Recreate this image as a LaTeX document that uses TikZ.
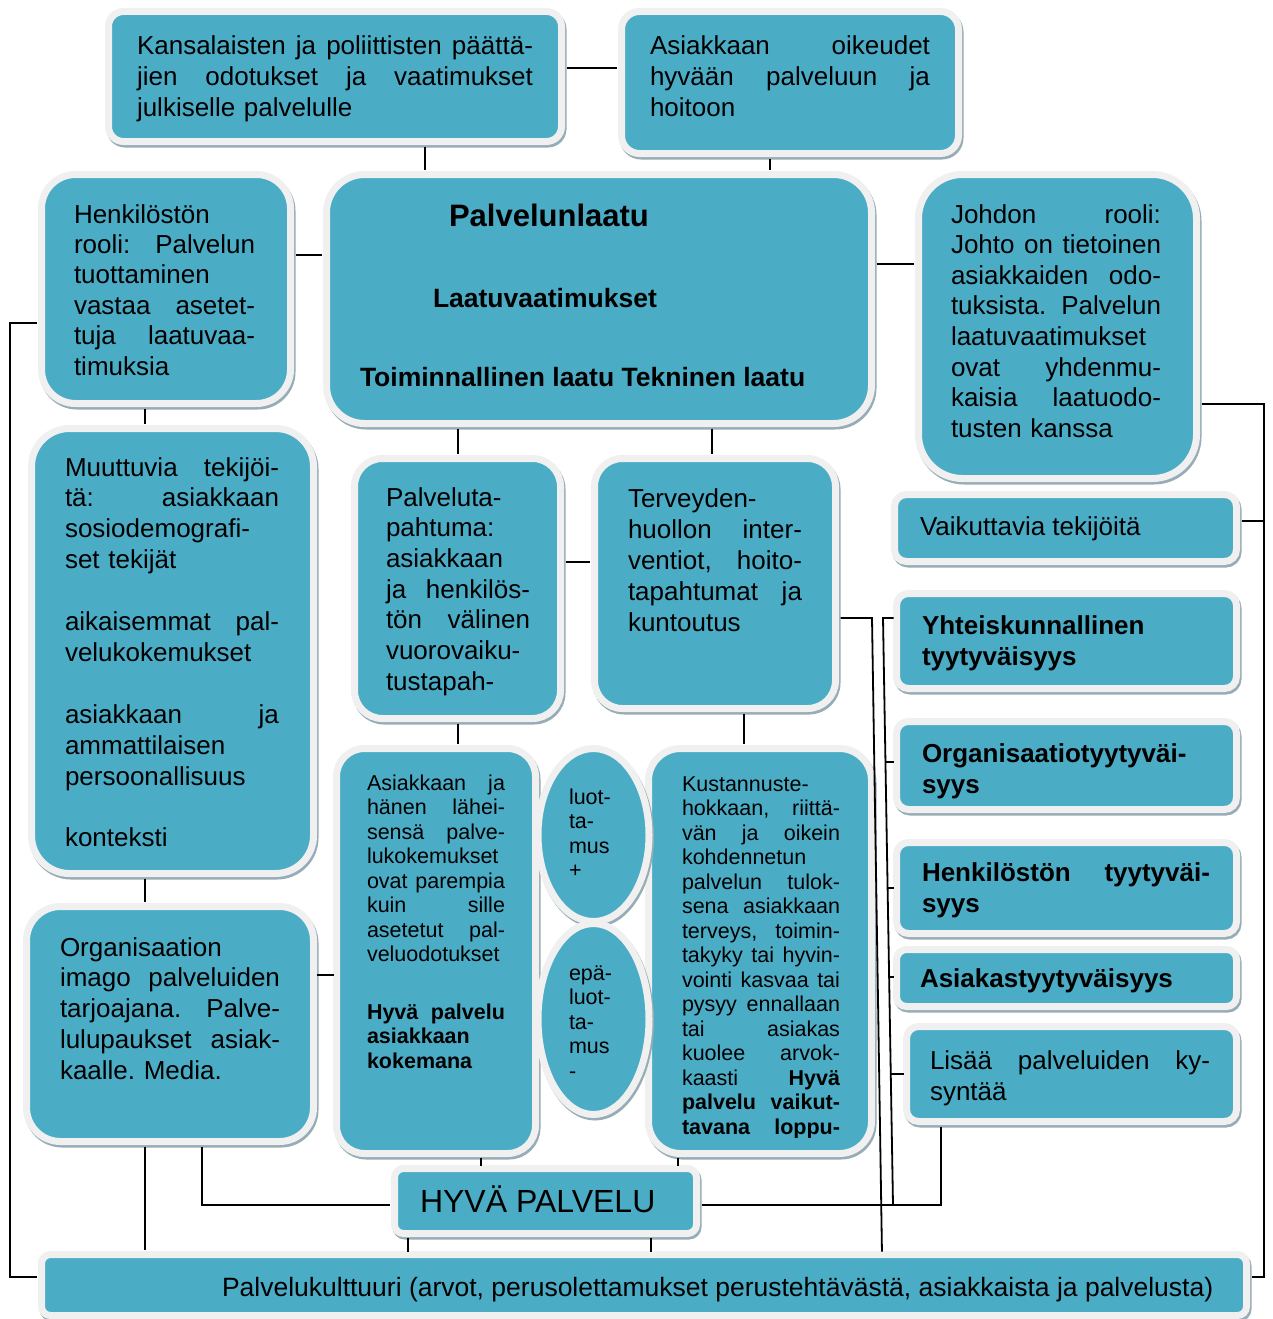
\documentclass[tikz,border=0pt]{standalone}
\usepackage{fontspec}
\setmainfont{Liberation Sans}
\usetikzlibrary{shapes.geometric}
\definecolor{tealA}{RGB}{75,172,198}
\definecolor{ringA}{RGB}{240,240,240}
\definecolor{shadA}{RGB}{150,172,182}
\newcommand\J[1]{{\spaceskip=0.278em plus 1fil\relax\xspaceskip=0.278em plus 1fil\relax\makebox[\linewidth][s]{#1}}}
\newcommand\fs[2]{\fontsize{#1}{#2}\selectfont}
\newcommand\tbox[6]{\node[tb,rounded corners=#6,minimum width={#4-#2+7},minimum height={#5-#3+7}] (#1) at ({(#2+#4)/2},{(#3+#5)/2}) {};}
\begin{document}
\frenchspacing
\begin{tikzpicture}[x=1pt,y=-1pt,
  tb/.style={draw=ringA, line width=7pt, fill=tealA, inner sep=0pt, outer sep=0pt,
    preaction={draw=shadA, fill=shadA, line width=7pt, transform canvas={shift={(1.5pt,-2.5pt)}}}},
  txt/.style={anchor=base west, inner sep=0pt, outer sep=0pt, align=left, font=\fs{26}{30.7}},
  sm/.style={font=\fs{21.5}{24.5}},
  conn/.style={draw=black, line width=1.8pt, shorten <=5pt, shorten >=5pt}]
\useasboundingbox (0,0) rectangle (1273,1319);

% boxes
\tbox{b1}{112}{15}{558}{138}{15}
\tbox{b2}{625}{15}{955}{150}{18}
\tbox{b3}{45}{178}{287}{400}{34}
\tbox{b4}{330}{178}{868}{420}{38}
\tbox{b5}{922}{178}{1193}{475}{44}
\tbox{b6}{898}{498}{1233}{558}{12}
\tbox{b7}{35}{432}{310}{870}{38}
\tbox{b8}{30}{910}{310}{1138}{34}
\tbox{b9}{358}{462}{557}{715}{28}
\tbox{b10}{598}{462}{832}{705}{28}
\tbox{b11}{340}{752}{532}{1150}{28}
\tbox{b17}{652}{752}{868}{1150}{32}
\node[tb, ellipse, minimum width=111, minimum height=173] (e1) at (593.5,835) {};
\node[tb, ellipse, minimum width=111, minimum height=191] (e2) at (593.5,1019) {};
\tbox{b12}{900}{597}{1233}{685}{12}
\tbox{b13}{900}{725}{1233}{806}{12}
\tbox{b14}{900}{846}{1233}{930}{12}
\tbox{b15}{900}{953}{1233}{1003}{10}
\tbox{b16}{910}{1030}{1233}{1118}{12}
\tbox{hyva}{398}{1172}{693}{1230}{9}
\tbox{bot}{45}{1258}{1243}{1312}{9}

% texts
\node[txt, text width=396] (t1) at (137,55) {\J{Kansalaisten ja poliittisten päättä-}\\\J{jien odotukset ja vaatimukset}\\julkiselle palvelulle};
\node[txt, text width=280] (t2) at (650,55) {\J{Asiakkaan oikeudet}\\\J{hyvään palveluun ja}\\hoitoon};
\node[txt, text width=181, font=\fs{26}{30.4}] (t3) at (74,223) {Henkilöstön\\\J{rooli: Palvelun}\\tuottaminen\\\J{vastaa asetet-}\\\J{tuja laatuvaa-}\\timuksia};
\node[txt, font=\fs{31}{36}\bfseries] (t4a) at (449,226.5) {Palvelunlaatu};
\node[txt, font=\fs{26.5}{31}\bfseries] (t4b) at (433,307.5) {Laatuvaatimukset};
\node[txt, font=\fs{26.5}{31}\bfseries] (t4c) at (360,386.5) {Toiminnallinen laatu Tekninen laatu};
\node[txt, text width=210, font=\fs{26}{30.6}] (t5) at (951,223) {\J{Johdon rooli:}\\\J{Johto on tietoinen}\\\J{asiakkaiden odo-}\\\J{tuksista. Palvelun}\\laatuvaatimukset\\\J{ovat yhdenmu-}\\\J{kaisia laatuodo-}\\tusten kanssa};
\node[txt] (t6) at (920,535) {Vaikuttavia tekijöitä};
\node[txt, text width=214, font=\fs{26}{30.9}] (t7) at (65,476) {\J{Muuttuvia tekijöi-}\\\J{tä: asiakkaan}\\sosiodemografi-\\set tekijät\\\mbox{}\\\J{aikaisemmat pal-}\\velukokemukset\\\mbox{}\\\J{asiakkaan ja}\\ammattilaisen\\persoonallisuus\\\mbox{}\\konteksti};
\node[txt, text width=220, font=\fs{26}{30.8}] (t8) at (60,956) {Organisaation\\\J{imago palveluiden}\\\J{tarjoajana. Palve-}\\\J{lulupaukset asiak-}\\kaalle. Media.};
\node[txt, text width=144, font=\fs{26}{30.7}] (t9) at (386,506) {Palveluta-\\pahtuma:\\asiakkaan\\\J{ja henkilös-}\\\J{tön välinen}\\vuorovaiku-\\tustapah-};
\node[txt, text width=174, font=\fs{26}{31}] (t10) at (628,507) {Terveyden-\\\J{huollon inter-}\\\J{ventiot, hoito-}\\\J{tapahtumat ja}\\kuntoutus};
\node[txt, sm, text width=138] (t11) at (367,790) {\J{Asiakkaan ja}\\\J{hänen lähei-}\\\J{sensä palve-}\\lukokemukset\\\J{ovat parempia}\\\J{kuin sille}\\\J{asetetut pal-}\\veluodotukset\\[33pt]\J{\bfseries Hyvä palvelu}\\{\bfseries asiakkaan}\\{\bfseries kokemana}};
\node[txt, sm, text width=60] (te1) at (569,804) {luot-\\ta-\\mus\\+};
\node[txt, sm, text width=60] (te2) at (569,980) {epä-\\luot-\\ta-\\mus\\-};
\begin{scope}
\clip (652,752) rectangle (868,1137);
\node[txt, sm, text width=158] (t17) at (682,791) {Kustannuste-\\\J{hokkaan, riittä-}\\\J{vän ja oikein}\\kohdennetun\\\J{palvelun tulok-}\\\J{sena asiakkaan}\\\J{terveys, toimin-}\\\J{takyky tai hyvin-}\\\J{vointi kasvaa tai}\\\J{pysyy ennallaan}\\\J{tai asiakas}\\\J{kuolee arvok-}\\\J{kaasti {\bfseries Hyvä}}\\\J{\bfseries palvelu vaikut-}\\\J{\bfseries tavana loppu-}};
\end{scope}
\node[txt, text width=300, font=\fs{26}{31}\bfseries] (t12) at (922,634) {Yhteiskunnallinen\\tyytyväisyys};
\node[txt, text width=300, font=\fs{26}{31}\bfseries] (t13) at (922,762) {Organisaatiotyytyväi-\\syys};
\node[txt, text width=288, font=\fs{26}{31}\bfseries] (t14) at (922,881) {\J{Henkilöstön tyytyväi-}\\syys};
\node[txt, font=\fs{26}{31}\bfseries] (t15) at (920,987) {Asiakastyytyväisyys};
\node[txt, text width=280, font=\fs{26}{31}] (t16) at (930,1069) {\J{Lisää palveluiden ky-}\\syntää};
\node[txt, font=\fs{32}{38}] (th) at (420,1212) {HYVÄ PALVELU};
\node[txt, font=\fs{26.5}{31}] (tb) at (222,1296) {Palvelukulttuuri (arvot, perusolettamukset perustehtävästä, asiakkaista ja palvelusta)};

% helper coordinates
\coordinate (x145) at (145,0);
\coordinate (x202) at (202,0);
\coordinate (x408) at (408,0);
\coordinate (x425) at (425,0);
\coordinate (x458) at (458,0);
\coordinate (x481) at (481,0);
\coordinate (x651) at (651,0);
\coordinate (x678) at (678,0);
\coordinate (x712) at (712,0);
\coordinate (x744) at (744,0);
\coordinate (x770) at (770,0);
\coordinate (y68) at (0,68);
\coordinate (y255) at (0,255);
\coordinate (y264) at (0,264);
\coordinate (y562) at (0,562);
\coordinate (y975) at (0,975);
\coordinate (lc1) at (10,323);
\coordinate (lc2) at (10,1277);
\coordinate (rc1) at (1264,404);
\coordinate (rc2) at (1264,1277);
\coordinate (rc3) at (1264,521);
\coordinate (la1) at (872,618);
\coordinate (la2) at (882,1250);
\coordinate (br1) at (883,618);
\coordinate (br2) at (893,1205);
\coordinate (tk1) at (885,762);
\coordinate (tk2) at (888,888);
\coordinate (tk3) at (889,977);
\coordinate (tk4) at (891,1074);
\coordinate (hv) at (941,1205);
\coordinate (lh) at (202,1205);

% connectors
\draw[conn] (b1.east |- y68) -- (b2.west |- y68);
\draw[conn] (b1.south -| x425) -- (b4.north -| x425);
\draw[conn] (b2.south -| x770) -- (b4.north -| x770);
\draw[conn] (b3.east |- y255) -- (b4.west |- y255);
\draw[conn] (b4.east |- y264) -- (b5.west |- y264);
\draw[conn] (b3.south -| x145) -- (b7.north -| x145);
\draw[conn] (b7.south -| x145) -- (b8.north -| x145);
\draw[conn] (b4.south -| x458) -- (b9.north -| x458);
\draw[conn] (b4.south -| x712) -- (b10.north -| x712);
\draw[conn] (b9.east |- y562) -- (b10.west |- y562);
\draw[conn] (b9.south -| x458) -- (b11.north -| x458);
\draw[conn] (b10.south -| x744) -- (b17.north -| x744);
\draw[conn, shorten <=3pt, shorten >=3pt] (b8.east |- y975) -- (b11.west |- y975);
\draw[conn, shorten <=4pt, shorten >=3pt] (b11.south -| x481) -- (hyva.north -| x481);
\draw[conn, shorten <=4pt, shorten >=3pt] (b17.south -| x678) -- (hyva.north -| x678);
\draw[conn, shorten <=4pt, shorten >=3pt] (hyva.south -| x408) -- (bot.north -| x408);
\draw[conn, shorten <=4pt, shorten >=3pt] (hyva.south -| x651) -- (bot.north -| x651);
\draw[conn] (b8.south -| x145) -- (bot.north -| x145);
\draw[conn] (b8.south -| x202) -- (lh) -- (hyva.west |- lh);
\draw[conn] (b3.west |- lc1) -- (lc1) -- (lc2) -- (bot.west |- lc2);
\draw[conn] (b5.east |- rc1) -- (rc1) -- (rc2) -- (bot.east |- rc2);
\draw[conn, shorten >=0pt] (b6.east |- rc3) -- (rc3);
\draw[conn, shorten >=3pt] (b10.east |- la1) -- (la1) -- (bot.north -| la2);
\draw[conn, shorten <=3pt, shorten >=0pt] (b12.west |- br1) -- (br1) -- (br2);
\draw[conn, shorten <=3pt, shorten >=0pt] (b13.west |- tk1) -- (tk1);
\draw[conn, shorten <=3pt, shorten >=0pt] (b14.west |- tk2) -- (tk2);
\draw[conn, shorten <=3pt, shorten >=0pt] (b15.west |- tk3) -- (tk3);
\draw[conn, shorten <=3pt, shorten >=0pt] (b16.west |- tk4) -- (tk4);
\draw[conn] (hyva.east |- hv) -- (hv) -- (b16.south -| hv);
\end{tikzpicture}
\end{document}
